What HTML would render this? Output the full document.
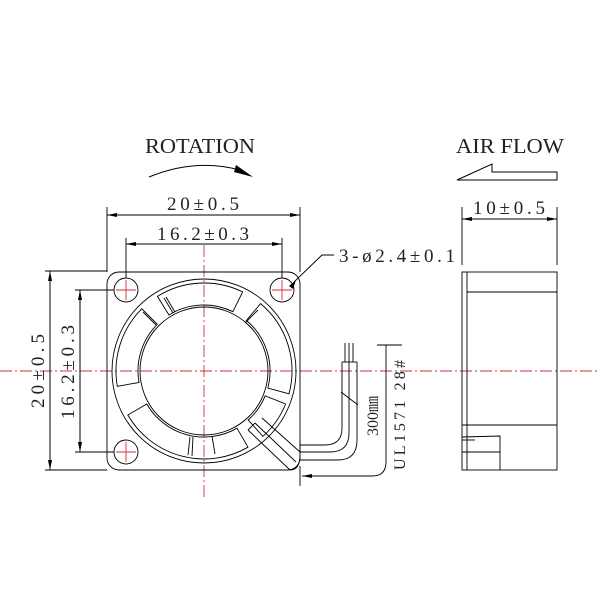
<!DOCTYPE html>
<html><head><meta charset="utf-8"><style>
html,body{margin:0;padding:0;background:#fff;}
svg{display:block;}
text{font-family:"Liberation Serif","Noto Serif CJK SC",serif;fill:#222;}
</style></head><body>
<svg width="600" height="600" viewBox="0 0 600 600" xmlns="http://www.w3.org/2000/svg">
<defs>
<marker id="ar" markerWidth="10" markerHeight="6" refX="10" refY="3" orient="auto" markerUnits="userSpaceOnUse"><path d="M0,1 L10,3 L0,5 Z" fill="#000"/></marker>
</defs>
<g stroke="#d0303a" stroke-width="0.9" stroke-dasharray="12,3,2,3" fill="none">
<line x1="0" y1="371" x2="600" y2="371"/>
<line x1="204" y1="245" x2="204" y2="500"/>
</g>
<!-- titles -->
<text x="145" y="153" font-size="21" textLength="110" lengthAdjust="spacingAndGlyphs">ROTATION</text>
<path d="M149,177 Q195,158 240,170" stroke="#000" stroke-width="1" fill="none"/>
<path d="M236,165 L253,177 L234,172 Z" fill="#000"/>
<text x="456" y="153" font-size="21" textLength="108" lengthAdjust="spacingAndGlyphs">AIR FLOW</text>
<path d="M457,180 L492,164 L492,172 L557,172 L557,180 Z" stroke="#000" stroke-width="1" fill="none"/>

<g stroke="#000" stroke-width="0.9" fill="none">
<line x1="107" y1="207" x2="107" y2="272"/><line x1="300" y1="207" x2="300" y2="272"/>
<line x1="110" y1="215" x2="300" y2="215" marker-end="url(#ar)"/><line x1="297" y1="215" x2="107" y2="215" marker-end="url(#ar)"/>
<line x1="126" y1="238" x2="126" y2="278"/><line x1="282" y1="238" x2="282" y2="278"/>
<line x1="130" y1="244" x2="282" y2="244" marker-end="url(#ar)"/><line x1="278" y1="244" x2="126" y2="244" marker-end="url(#ar)"/>
<line x1="45" y1="271" x2="107" y2="271"/><line x1="45" y1="470" x2="107" y2="470"/>
<line x1="50" y1="275" x2="50" y2="470" marker-end="url(#ar)"/><line x1="50" y1="466" x2="50" y2="271" marker-end="url(#ar)"/>
<line x1="75" y1="290" x2="114" y2="290"/><line x1="75" y1="452" x2="114" y2="452"/>
<line x1="80" y1="294" x2="80" y2="452" marker-end="url(#ar)"/><line x1="80" y1="448" x2="80" y2="290" marker-end="url(#ar)"/>
<polyline points="334,255 322,255 294,282"/>
<rect x="107" y="272" width="193" height="198" rx="12"/>
<circle cx="204" cy="371" r="92"/>
<circle cx="204" cy="371" r="64"/>
<circle cx="126" cy="290" r="12"/><circle cx="282" cy="290" r="12"/><circle cx="126" cy="452" r="12"/>
<path d="M157.4,296.4 A88 88 0 0 1 242.6,291.9 L232.9,311.7 A66 66 0 0 0 169.0,315.0 Z"/>
<path d="M260.6,303.6 A88 88 0 0 1 289.0,393.8 L267.8,388.1 A66 66 0 0 0 246.4,320.4 Z"/>
<path d="M117.3,386.3 A88 88 0 0 1 141.8,308.8 L157.3,324.3 A66 66 0 0 0 139.0,382.5 Z"/>
<path d="M248,447.2 A88 88 0 0 1 127.8,415 L146.8,404 A66 66 0 0 0 237,428.2 Z"/>
<path d="M285.6,404 A88 88 0 0 1 262.9,436.4 L248.2,420 A66 66 0 0 0 265.2,395.8 Z"/>
<line x1="164" y1="298" x2="173" y2="313"/><line x1="166" y1="297" x2="175" y2="312"/>
<line x1="143" y1="312" x2="156" y2="325"/>
<line x1="188" y1="455" x2="190" y2="437"/><line x1="192" y1="456" x2="193" y2="437"/>
<line x1="215" y1="454" x2="212" y2="436"/>
<line x1="258" y1="310" x2="245" y2="323"/>
<path d="M248,430 L290,470 M255,423 L296,462 M262,418 L300,452 M248,430 L255,423"/>
<path d="M290,470 Q300,470 300,455 L300,440"/>
<line x1="345" y1="343" x2="345" y2="362"/><line x1="349" y1="343" x2="349" y2="362"/><line x1="353" y1="343" x2="353" y2="362"/>
<path d="M342,362 L342,428 Q342,445 325,445 L300,445"/>
<path d="M349,362 L349,433 Q349,452 330,452 L300,452"/>
<path d="M357,362 L357,440 Q357,460 338,460 L300,460"/>
<line x1="342" y1="362" x2="357" y2="362"/>
<line x1="341" y1="392" x2="358" y2="405"/>
<line x1="377" y1="345" x2="402" y2="345"/>
<path d="M386,345 L386,462 Q386,476 372,476 L302,476" marker-end="url(#ar)"/>
<line x1="300" y1="466" x2="300" y2="486"/>
<line x1="462" y1="207" x2="462" y2="265"/><line x1="557" y1="207" x2="557" y2="265"/>
<line x1="466" y1="219" x2="557" y2="219" marker-end="url(#ar)"/><line x1="553" y1="219" x2="462" y2="219" marker-end="url(#ar)"/>
<rect x="462" y="272" width="95" height="198"/>
<line x1="467" y1="272" x2="467" y2="470"/>
<line x1="467" y1="292" x2="557" y2="292"/>
<line x1="462" y1="425" x2="557" y2="425"/>
<polyline points="462,437 500,436 500,470"/>
<line x1="462" y1="452" x2="500" y2="452"/>
<line x1="462" y1="440" x2="475" y2="440"/>
</g>
<g stroke="#d0303a" stroke-width="0.9">
<path d="M116,290 h20 M126,280 v20 M272,290 h20 M282,280 v20 M116,452 h20 M126,442 v20"/>
</g>
<path d="M289,286 L296,280 L293,289 Z" fill="#000"/>
<text x="167" y="210" font-size="19" textLength="72" lengthAdjust="spacing">20±0.5</text>
<text x="157" y="240" font-size="19" textLength="92" lengthAdjust="spacing">16.2±0.3</text>
<text x="339" y="262" font-size="19" textLength="116" lengthAdjust="spacing">3-ø2.4±0.1</text>
<text x="473" y="214" font-size="19" textLength="72" lengthAdjust="spacing">10±0.5</text>
<text transform="translate(44,371) rotate(-90)" x="-37" y="0" font-size="19" textLength="74" lengthAdjust="spacing">20±0.5</text>
<text transform="translate(74,372) rotate(-90)" x="-47" y="0" font-size="19" textLength="94" lengthAdjust="spacing">16.2±0.3</text>
<text transform="translate(378,416) rotate(-90)" x="-20" y="0" font-size="16" textLength="40" lengthAdjust="spacing">300㎜</text>
<text transform="translate(405,415) rotate(-90)" x="-55" y="0" font-size="16" textLength="110" lengthAdjust="spacing">UL1571 28#</text>
</svg>
</body></html>
